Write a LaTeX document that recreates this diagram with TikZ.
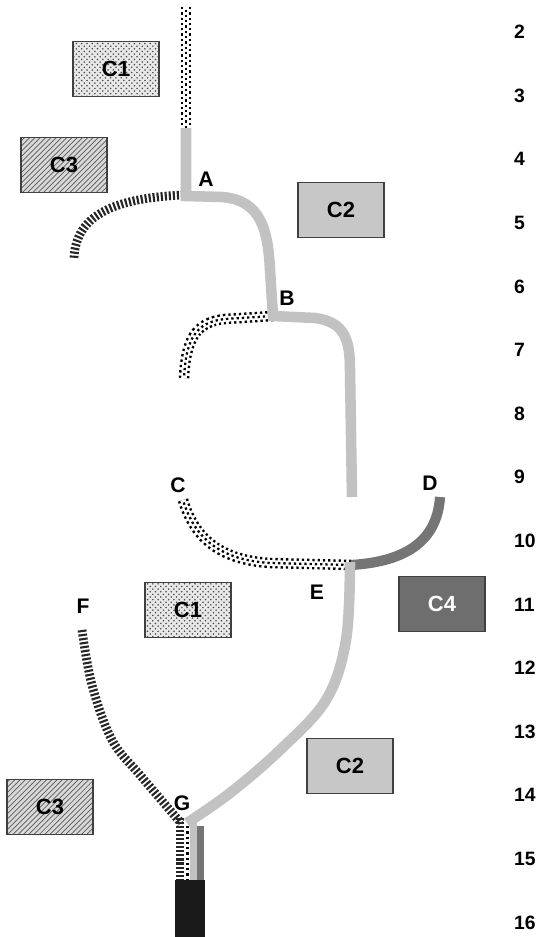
\documentclass[tikz,border=0pt]{standalone}
\usepackage{fontspec}
\setmainfont{Liberation Sans}
\usetikzlibrary{patterns}

\definecolor{wiregrey}{gray}{0.76}
\definecolor{wiredark}{gray}{0.46}
\definecolor{boxgrey}{gray}{0.78}
\definecolor{boxdark}{gray}{0.43}
\definecolor{boxline}{gray}{0.25}

\tikzset{
  box/.style={draw=boxline, line width=0.7pt, minimum width=1.72cm, minimum height=1.1cm,
    font=\fontsize{12.5}{14}\selectfont\bfseries},
  dotbox/.style={box, preaction={fill=gray!18}, pattern=crosshatch dots, pattern color=black!70},
  hatchbox/.style={box, preaction={fill=gray!30}, pattern=north east lines, pattern color=black!65},
  greybox/.style={box, fill=boxgrey},
  darkbox/.style={box, fill=boxdark, text=white},
  lbl/.style={font=\fontsize{12}{14}\selectfont\bfseries},
  num/.style={anchor=west, font=\fontsize{11}{13}\selectfont\bfseries},
  greywire/.style={line width=6pt, draw=wiregrey},
  darkwire/.style={line width=5.8pt, draw=wiredark},
  hatchwire/.style={line width=5pt, draw=black!85, dash pattern=on 1.2pt off 1.1pt},
  dotwire/.style={line width=6pt, draw=white,
    postaction={draw=black, dash pattern=on 1.3pt off 1.7pt},
    postaction={draw=white, solid, line width=3.2pt},
    postaction={draw=black, line width=1.3pt, dash pattern=on 1.3pt off 1.7pt, dash phase=1.5pt}},
}

\begin{document}
\begin{tikzpicture}[x=0.02cm, y=-0.02cm]
  \useasboundingbox (0,0) rectangle (546,937);

  % Giunzioni
  \coordinate (A) at (186,196);
  \coordinate (B) at (273,316);
  \coordinate (E) at (351,565);
  \coordinate (G) at (187,823);

  % Scatole
  \node[dotbox]   (c1top) at (116,69)  {C1};
  \node[hatchbox] (c3top) at (64,165)  {C3};
  \node[greybox]  (c2top) at (341,210) {C2};
  \node[darkbox]  (c4)    at (442,604) {C4};
  \node[dotbox]   (c1bot) at (188,610) {C1};
  \node[greybox]  (c2bot) at (350,766) {C2};
  \node[hatchbox] (c3bot) at (50,807)  {C3};

  % Fili punteggiati e tratteggiati
  \draw[dotwire] (186,7) -- (186,130);
  \draw[hatchwire] (183,195) .. controls (120,198) and (76,212) .. (74,258);
  \draw[dotwire] (B) -- (225,319) .. controls (195,322) and (186,340) .. (184,378);
  \draw[dotwire] (183,500) .. controls (195,540) and (222,560) .. (270,563) -- (E);
  \draw[hatchwire] plot[smooth, tension=0.6] coordinates {(82,630) (92,685) (112,740) (140,775) (181,823)};

  % Fili grigi
  \draw[greywire] (186,128) -- (A) -- (222,197) .. controls (262,200) and (268,232) .. (270,270) -- (B)
    -- (315,318) .. controls (345,322) and (350,340) .. (350,370) -- (352,497);
  \draw[darkwire] (440,497) .. controls (437,545) and (400,562) .. (E);
  \draw[greywire] plot[smooth, tension=0.6] coordinates {(350,562) (346,640) (326,700) (280,750) (230,793) (G)};

  % Fascio in basso
  \draw[hatchwire] (180,818) -- (180,882);
  \draw[line width=1.3pt, dash pattern=on 1.3pt off 1.7pt] (187.5,826) -- (187.5,880);
  \fill[wiregrey] (190,823) rectangle (197,880);
  \fill[wiredark] (197,826) rectangle (204,880);
  \fill[black!90] (175,880) rectangle (205,937);

  % Etichette
  \node[lbl] (lA) at (206,179) {A};
  \node[lbl] (lB) at (287,298) {B};
  \node[lbl] (lC) at (178,485) {C};
  \node[lbl] (lD) at (430,483) {D};
  \node[lbl] (lE) at (317,592) {E};
  \node[lbl] (lF) at (83,606)  {F};
  \node[lbl] (lG) at (182,803) {G};

  % Numeri a destra
  \foreach \n [count=\i from 0] in {2,...,16}
    \node[num] (n\n) at (508,32+63.6*\i) {\n};
\end{tikzpicture}
\end{document}
